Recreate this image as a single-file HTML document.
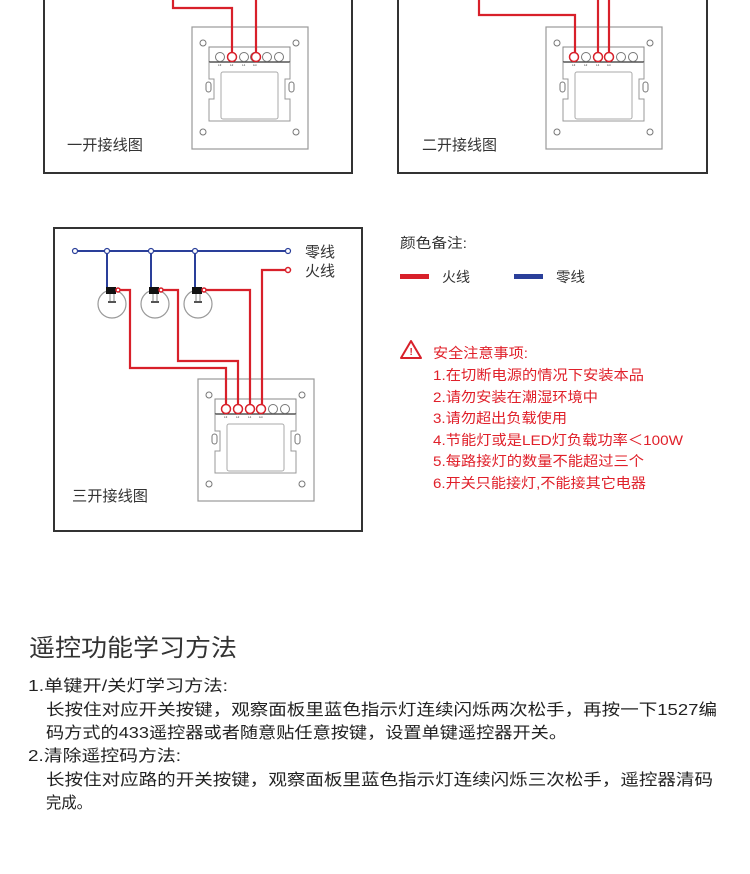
<!DOCTYPE html>
<html><head><meta charset="utf-8"><style>
body{margin:0;background:#fff;width:750px;height:874px;overflow:hidden;}
svg{display:block}
text{font-family:"Liberation Sans","Noto Sans CJK SC",sans-serif;}
</style></head><body>
<svg width="750" height="874" viewBox="0 0 750 874">
<defs>
<g id="plate">
 <rect x="0" y="0" width="116" height="122" fill="#fff" stroke="#999" stroke-width="1.2"/>
 <circle cx="11" cy="16" r="3" fill="none" stroke="#777"/>
 <circle cx="104" cy="16" r="3" fill="none" stroke="#777"/>
 <circle cx="11" cy="105" r="3" fill="none" stroke="#777"/>
 <circle cx="104" cy="105" r="3" fill="none" stroke="#777"/>
 <path d="M17 20 H98 V35 H17 Z" fill="none" stroke="#888"/>
 <line x1="17" y1="35" x2="98" y2="35" stroke="#333" stroke-width="1.2"/>
 <path d="M17 35 V52 H22 V72 H17 V94 H98 V72 H93 V52 H98 V35" fill="none" stroke="#999"/>
 <rect x="29" y="45" width="57" height="47" rx="2" fill="none" stroke="#aaa"/>
 <rect x="14" y="55" width="5" height="10" rx="2.5" fill="none" stroke="#777"/>
 <rect x="97" y="55" width="5" height="10" rx="2.5" fill="none" stroke="#777"/>
 <g fill="#fff" stroke="#777"><circle cx="28" cy="30" r="4.5"/><circle cx="40" cy="30" r="4.5"/><circle cx="52" cy="30" r="4.5"/><circle cx="63" cy="30" r="4.5"/><circle cx="75" cy="30" r="4.5"/><circle cx="87" cy="30" r="4.5"/></g>
 <g font-size="3" fill="#333" font-family="Liberation Sans"><text x="26" y="39">L3</text><text x="38" y="39">L2</text><text x="50" y="39">L1</text><text x="61" y="39">Lin</text></g>
</g>
<g id="bulb">
 <circle cx="0" cy="0" r="14" fill="#fff" stroke="#999" stroke-width="1.2"/>
 <rect x="-6" y="-17" width="10" height="7" fill="#111"/>
 <path d="M-2 -10 V-3 M2 -10 V-3" stroke="#888" fill="none"/>
 <rect x="-4" y="-3" width="8" height="2" fill="#555"/>
</g>
</defs>

<path d="M44 0 V173 H352 V0" fill="none" stroke="#333" stroke-width="2"/>
<use href="#plate" x="192" y="27"/>
<g stroke="#d8202a" stroke-width="2.2" fill="none">
 <path d="M173 0 V8 H232 V57"/>
 <path d="M256 0 V57"/>
</g>
<circle cx="232" cy="57" r="4.5" fill="#fff" stroke="#d8202a" stroke-width="1.5"/>
<circle cx="256" cy="57" r="4.5" fill="#fff" stroke="#d8202a" stroke-width="1.5"/>
<text x="67" y="150" font-size="15" fill="#333" textLength="76" lengthAdjust="spacingAndGlyphs">一开接线图</text>

<path d="M398 0 V173 H707 V0" fill="none" stroke="#333" stroke-width="2"/>
<use href="#plate" x="546" y="27"/>
<g stroke="#d8202a" stroke-width="2.2" fill="none">
 <path d="M479 0 V15 H575 V57"/>
 <path d="M598 0 V57"/>
 <path d="M609 0 V57"/>
</g>
<circle cx="574" cy="57" r="4.5" fill="#fff" stroke="#d8202a" stroke-width="1.5"/>
<circle cx="598" cy="57" r="4.5" fill="#fff" stroke="#d8202a" stroke-width="1.5"/>
<circle cx="609" cy="57" r="4.5" fill="#fff" stroke="#d8202a" stroke-width="1.5"/>
<text x="422" y="150" font-size="15" fill="#333" textLength="75" lengthAdjust="spacingAndGlyphs">二开接线图</text>

<rect x="54" y="228" width="308" height="303" fill="none" stroke="#333" stroke-width="2"/>
<g stroke="#2a3f9a" stroke-width="2" fill="none">
 <path d="M75 251 H288"/>
 <path d="M107 251 V288 M151 251 V288 M195 251 V288"/>
</g>
<g fill="#fff" stroke="#2a3f9a" stroke-width="1.2">
 <circle cx="75" cy="251" r="2.5"/><circle cx="107" cy="251" r="2.5"/><circle cx="151" cy="251" r="2.5"/><circle cx="195" cy="251" r="2.5"/><circle cx="288" cy="251" r="2.5"/>
</g>
<use href="#bulb" x="112" y="304"/>
<use href="#bulb" x="155" y="304"/>
<use href="#bulb" x="198" y="304"/>
<use href="#plate" x="198" y="379"/>
<g stroke="#d8202a" stroke-width="2.2" fill="none">
 <path d="M118 290 H130 V368 H226 V409"/>
 <path d="M161 290 H178 V361 H238 V409"/>
 <path d="M204 290 H250 V409"/>
 <path d="M288 270 H262 V409"/>
</g>
<g fill="#fff" stroke="#d8202a" stroke-width="1.5">
 <circle cx="226" cy="409" r="4.5"/><circle cx="238" cy="409" r="4.5"/><circle cx="250" cy="409" r="4.5"/><circle cx="261" cy="409" r="4.5"/>
 <circle cx="288" cy="270" r="2.5"/><circle cx="118" cy="290" r="2"/><circle cx="161" cy="290" r="2"/><circle cx="204" cy="290" r="2"/>
</g>
<text x="305" y="257" font-size="15" fill="#333" textLength="30" lengthAdjust="spacingAndGlyphs">零线</text>
<text x="305" y="276" font-size="15" fill="#333" textLength="30" lengthAdjust="spacingAndGlyphs">火线</text>
<text x="72" y="501" font-size="15" fill="#333" textLength="76" lengthAdjust="spacingAndGlyphs">三开接线图</text>

<text x="400" y="248" font-size="14" fill="#333" textLength="67" lengthAdjust="spacingAndGlyphs">颜色备注:</text>
<rect x="400" y="274" width="29" height="5" fill="#d8202a"/>
<text x="442" y="282" font-size="14" fill="#333" textLength="28" lengthAdjust="spacingAndGlyphs">火线</text>
<rect x="514" y="274" width="29" height="5" fill="#2a3f9a"/>
<text x="556" y="282" font-size="14" fill="#333" textLength="29" lengthAdjust="spacingAndGlyphs">零线</text>

<path d="M411 341 L421 358 H401 Z" fill="none" stroke="#d8202a" stroke-width="2" stroke-linejoin="round"/>
<text x="409.5" y="355" font-size="10" fill="#d8202a" font-weight="bold">!</text>
<g font-size="14" fill="#e0202a">
 <text x="433" y="358" textLength="95" lengthAdjust="spacingAndGlyphs">安全注意事项:</text>
 <text x="433" y="380" textLength="211" lengthAdjust="spacingAndGlyphs">1.在切断电源的情况下安装本品</text>
 <text x="433" y="402" textLength="165" lengthAdjust="spacingAndGlyphs">2.请勿安装在潮湿环境中</text>
 <text x="433" y="423" textLength="134" lengthAdjust="spacingAndGlyphs">3.请勿超出负载使用</text>
 <text x="433" y="445" textLength="250" lengthAdjust="spacingAndGlyphs">4.节能灯或是LED灯负载功率＜100W</text>
 <text x="433" y="466" textLength="211" lengthAdjust="spacingAndGlyphs">5.每路接灯的数量不能超过三个</text>
 <text x="433" y="488" textLength="213" lengthAdjust="spacingAndGlyphs">6.开关只能接灯,不能接其它电器</text>
</g>

<text x="29" y="656" font-size="24" fill="#333" textLength="208" lengthAdjust="spacingAndGlyphs">遥控功能学习方法</text>
<g font-size="16" fill="#222">
 <text x="28" y="691" textLength="200" lengthAdjust="spacingAndGlyphs">1.单键开/关灯学习方法:</text>
 <text x="46" y="715" textLength="671" lengthAdjust="spacingAndGlyphs">长按住对应开关按键，观察面板里蓝色指示灯连续闪烁两次松手，再按一下1527编</text>
 <text x="46" y="738" textLength="521" lengthAdjust="spacingAndGlyphs">码方式的433遥控器或者随意贴任意按键，设置单键遥控器开关。</text>
 <text x="28" y="761" textLength="153" lengthAdjust="spacingAndGlyphs">2.清除遥控码方法:</text>
 <text x="46" y="785" textLength="667" lengthAdjust="spacingAndGlyphs">长按住对应路的开关按键，观察面板里蓝色指示灯连续闪烁三次松手，遥控器清码</text>
 <text x="46" y="808" textLength="46" lengthAdjust="spacingAndGlyphs">完成。</text>
</g>
</svg>
</body></html>
